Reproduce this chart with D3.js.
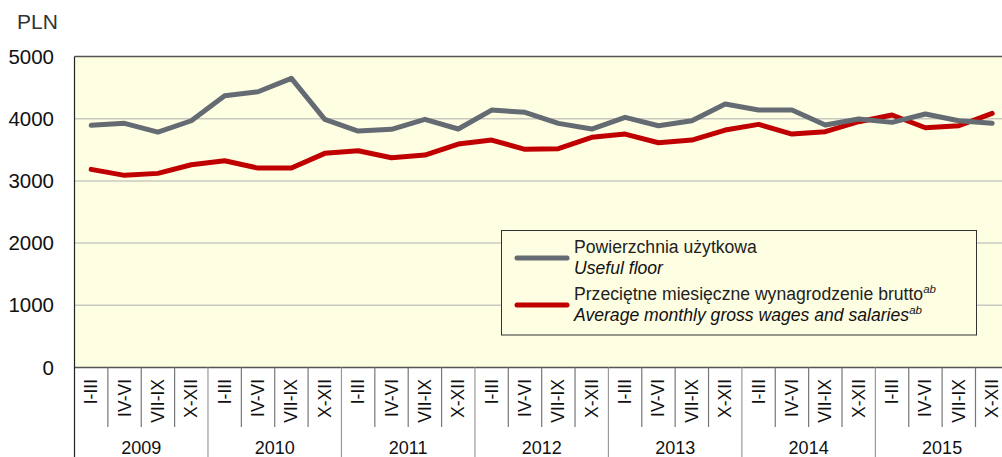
<!DOCTYPE html>
<html>
<head>
<meta charset="utf-8">
<script src="https://cdn.jsdelivr.net/npm/d3@7"></script>
<style>
  html, body { margin: 0; padding: 0; background: #fff; overflow: hidden; }
  svg { display: block; font-family: "Liberation Sans", Arial, sans-serif; }
</style>
</head>
<body>
<svg id="chart" width="1002" height="457"></svg>
<script>
// Data
const years = ['2009', '2010', '2011', '2012', '2013', '2014', '2015'];
const quarters = ['I-III', 'IV-VI', 'VII-IX', 'X-XII'];
const yTicks = [0, 1000, 2000, 3000, 4000, 5000];

// Powierzchnia użytkowa / Useful floor
const usefulFloor = [
  3893, 3925, 3785, 3967,
  4369, 4434, 4649, 3990,
  3802, 3829, 3990, 3834,
  4139, 4102, 3925, 3834,
  4022, 3887, 3967, 4236,
  4139, 4139, 3898, 3995,
  3941, 4075, 3967, 3925
];

// Przeciętne miesięczne wynagrodzenie brutto / Average monthly gross wages and salaries
const wages = [
  3185, 3089, 3121, 3260,
  3324, 3206, 3206, 3443,
  3485, 3372, 3415, 3592,
  3657, 3507, 3518, 3700,
  3753, 3614, 3657, 3818,
  3909, 3753, 3791, 3952,
  4059, 3855, 3887, 4086
];

const periods = [];
years.forEach(y => quarters.forEach(q => periods.push({ year: y, q: q, key: y + ' ' + q })));

const svg = d3.select('#chart');

const plotLeft = 74.5, plotTop = 56.5, plotBottom = 367.5;
const step = 33.37;
const plotRight = plotLeft + periods.length * step;

const x = d3.scaleBand()
  .domain(periods.map(p => p.key))
  .range([plotLeft, plotRight])
  .paddingInner(0)
  .paddingOuter(0);

const y = d3.scaleLinear()
  .domain([0, 5000])
  .range([plotBottom, plotTop]);

// plot background
svg.append('rect')
  .attr('x', plotLeft)
  .attr('y', plotTop)
  .attr('width', plotRight - plotLeft)
  .attr('height', plotBottom - plotTop)
  .attr('fill', '#fefee2');

// gridlines
svg.append('g')
  .selectAll('line')
  .data(yTicks.filter(d => d > 0 && d < 5000))
  .join('line')
  .attr('x1', plotLeft)
  .attr('x2', plotRight)
  .attr('y1', d => y(d))
  .attr('y2', d => y(d))
  .attr('stroke', '#c9c9c1')
  .attr('stroke-width', 1.5);

// frame: top, bottom, left
svg.append('line')
  .attr('x1', plotLeft).attr('x2', plotRight)
  .attr('y1', plotTop).attr('y2', plotTop)
  .attr('stroke', '#555').attr('stroke-width', 1.5);
svg.append('line')
  .attr('x1', plotLeft).attr('x2', plotRight)
  .attr('y1', plotBottom).attr('y2', plotBottom)
  .attr('stroke', '#555').attr('stroke-width', 1.5);
svg.append('line')
  .attr('x1', plotLeft).attr('x2', plotLeft)
  .attr('y1', plotTop).attr('y2', 457)
  .attr('stroke', '#222').attr('stroke-width', 1.2);

// y tick labels
svg.append('g')
  .selectAll('text')
  .data(yTicks)
  .join('text')
  .attr('x', 54)
  .attr('y', d => y(d))
  .attr('dy', '0.35em')
  .attr('text-anchor', 'end')
  .attr('font-size', 20.5)
  .attr('fill', '#111')
  .text(d => d);

svg.append('text')
  .attr('x', 17)
  .attr('y', 29)
  .attr('font-size', 21)
  .attr('fill', '#333')
  .text('PLN');

// quarter separators + labels
const xAxis = svg.append('g');
periods.forEach((p, i) => {
  const x0 = x(p.key);
  if (i > 0) {
    const isYear = p.q === 'I-III';
    xAxis.append('line')
      .attr('x1', x0).attr('x2', x0)
      .attr('y1', plotBottom)
      .attr('y2', isYear ? 457 : 427)
      .attr('stroke', isYear ? '#9a9a9a' : '#777')
      .attr('stroke-width', 1.2);
  }
  const cx = x0 + x.bandwidth() / 2;
  xAxis.append('text')
    .attr('transform', `translate(${cx + 6},379) rotate(-90)`)
    .attr('text-anchor', 'end')
    .attr('font-size', 17.5)
    .attr('fill', '#111')
    .text(p.q);
});

// year labels
svg.append('g')
  .selectAll('text')
  .data(years)
  .join('text')
  .attr('x', d => x(d + ' I-III') + 2 * step)
  .attr('y', 454)
  .attr('text-anchor', 'middle')
  .attr('font-size', 18)
  .attr('fill', '#111')
  .text(d => d);

// lines
const line = d3.line()
  .x((d, i) => x(periods[i].key) + x.bandwidth() / 2)
  .y(d => y(d));

svg.append('path')
  .datum(wages)
  .attr('d', line)
  .attr('fill', 'none')
  .attr('stroke', '#c00000')
  .attr('stroke-width', 5)
  .attr('stroke-linejoin', 'round')
  .attr('stroke-linecap', 'round');

svg.append('path')
  .datum(usefulFloor)
  .attr('d', line)
  .attr('fill', 'none')
  .attr('stroke', '#656b72')
  .attr('stroke-width', 5)
  .attr('stroke-linejoin', 'round')
  .attr('stroke-linecap', 'round');

// legend
const legend = svg.append('g');
legend.append('rect')
  .attr('x', 501.5)
  .attr('y', 230.5)
  .attr('width', 475)
  .attr('height', 104.5)
  .attr('fill', '#fefee2')
  .attr('stroke', '#333')
  .attr('stroke-width', 1);

const legendItems = [
  { color: '#656b72', y: 258, pl: 'Powierzchnia użytkowa', en: 'Useful floor', sup: false },
  { color: '#c00000', y: 305, pl: 'Przeciętne miesięczne wynagrodzenie brutto', en: 'Average monthly gross wages and salaries', sup: true }
];

legendItems.forEach(item => {
  legend.append('line')
    .attr('x1', 517).attr('x2', 567)
    .attr('y1', item.y).attr('y2', item.y)
    .attr('stroke', item.color)
    .attr('stroke-width', 5)
    .attr('stroke-linecap', 'round');

  const t1 = legend.append('text')
    .attr('x', 574)
    .attr('y', item.y - 5)
    .attr('font-size', 17.6)
    .attr('fill', '#222')
    .text(item.pl);
  if (item.sup) {
    t1.append('tspan')
      .attr('font-size', 11.5)
      .attr('font-style', 'italic')
      .attr('dy', -7)
      .text('ab');
  }
  const t2 = legend.append('text')
    .attr('x', 574)
    .attr('y', item.y + 16)
    .attr('font-size', 17.6)
    .attr('font-style', 'italic')
    .attr('fill', '#111')
    .text(item.en);
  if (item.sup) {
    t2.append('tspan')
      .attr('font-size', 11.5)
      .attr('dy', -7)
      .text('ab');
  }
});
</script>
</body>
</html>
